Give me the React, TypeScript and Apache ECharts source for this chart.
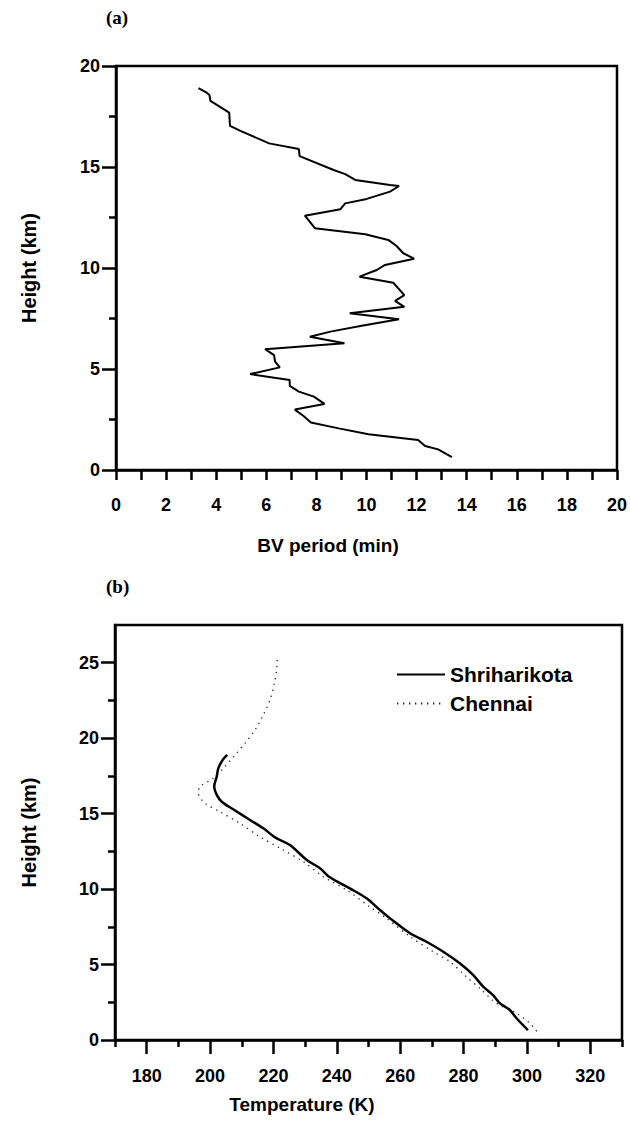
import React, { useEffect, useRef } from "react";
import * as echarts from "echarts";

// Panel (a): Brunt–Väisälä period profile
const bvPeriod = [3.29, 3.62, 3.73, 3.77, 4.52, 4.55, 4.99, 6.11, 7.3, 7.33, 8.69, 9.15, 9.55, 10.94, 11.3, 10.94, 10.01, 9.15, 8.96, 7.54, 7.94, 9.95, 10.87, 11.2, 11.47, 11.9, 10.74, 10.41, 9.72, 11.07, 11.51, 11.14, 11.51, 9.33, 11.3, 9.81, 8.56, 7.74, 9.12, 5.95, 6.31, 6.35, 6.54, 5.35, 6.93, 6.94, 7.3, 7.9, 8.32, 7.14, 7.5, 7.78, 8.89, 10.08, 12.06, 12.34, 12.86, 13.41];
const bvHeight = [18.9, 18.68, 18.56, 18.27, 17.69, 17.04, 16.78, 16.17, 15.89, 15.54, 14.85, 14.65, 14.36, 14.11, 14.06, 13.78, 13.42, 13.2, 12.91, 12.59, 11.97, 11.67, 11.39, 11.09, 10.73, 10.46, 10.15, 9.9, 9.57, 9.27, 8.66, 8.37, 8.08, 7.76, 7.46, 7.14, 6.85, 6.6, 6.27, 5.98, 5.69, 5.36, 5.08, 4.75, 4.46, 4.16, 3.88, 3.63, 3.27, 2.99, 2.66, 2.35, 2.06, 1.77, 1.49, 1.19, 1.02, 0.64];

// Panel (b): temperature profiles
const shkTemp = [205.4, 204.0, 202.6, 202.1, 201.3, 202.1, 203.7, 207.3, 212.6, 216.8, 220.5, 225.2, 230.5, 234.7, 237.8, 244.1, 249.4, 253.6, 256.8, 263.1, 268.3, 273.6, 278.8, 283.0, 286.2, 289.3, 291.5, 294.6, 296.7, 300.3];
const shkHeight = [18.89, 18.56, 18.0, 17.45, 16.79, 16.24, 15.79, 15.29, 14.58, 14.03, 13.43, 12.92, 11.93, 11.38, 10.78, 10.05, 9.39, 8.61, 8.06, 7.07, 6.51, 5.85, 5.08, 4.31, 3.53, 2.98, 2.43, 1.99, 1.44, 0.66];
const chnTemp = [221.2, 221.0, 220.3, 218.9, 216.8, 214.2, 211.0, 207.9, 204.2, 201.0, 196.8, 196.3, 198.4, 203.1, 209.4, 215.7, 223.1, 229.4, 235.7, 243.1, 250.4, 255.7, 263.1, 270.4, 275.7, 280.9, 285.1, 290.4, 296.7, 300.9, 304.0];
const chnHeight = [25.18, 24.52, 23.64, 22.53, 21.54, 20.54, 19.66, 18.89, 18.0, 17.34, 16.79, 16.35, 15.69, 15.13, 14.36, 13.47, 12.59, 11.82, 10.82, 9.94, 8.83, 8.06, 6.85, 5.85, 5.19, 4.19, 3.43, 2.43, 1.77, 1.11, 0.33];

const tempMajorTicks = [180, 200, 220, 240, 260, 280, 300, 320];
const tempMinorTicks = [170, 190, 210, 230, 250, 270, 290, 310, 330];
const heightMajorTicksB = [0, 5, 10, 15, 20, 25];
const heightMinorTicksB = [2.5, 7.5, 12.5, 17.5, 22.5];

const FONT = "'Liberation Sans', Arial, sans-serif";
const lbl = { color: "#000", fontFamily: FONT, fontWeight: "bold" as const, fontSize: 18 };
const nameStyle = { color: "#000", fontFamily: FONT, fontWeight: "bold" as const, fontSize: 20 };
const axLine = { show: true, lineStyle: { color: "#000", width: 2.5 } };

export default function App() {
  const ref = useRef<HTMLDivElement>(null);
  useEffect(() => {
    if (!ref.current) return;
    const chart = echarts.init(ref.current, undefined, { renderer: "svg" });
    const zip = (a: number[], b: number[]) => a.map((v, i) => [v, b[i]]);
    const titleFont = `bold 19px ${FONT}`;
    chart.setOption({
      animation: false,
      backgroundColor: "#fff",
      grid: [
        { left: 116, top: 66, width: 504, height: 404, show: true, borderColor: "#000", borderWidth: 2.5, backgroundColor: "transparent" },
        { left: 115, top: 625, width: 507, height: 415, show: true, borderColor: "#000", borderWidth: 2.5, backgroundColor: "transparent" },
      ],
      graphic: [
        { type: "text", left: 106, top: 8, style: { text: "(a)", font: "bold 19px 'Liberation Serif', 'Times New Roman', serif", fill: "#000" } },
        { type: "text", left: 106, top: 577, style: { text: "(b)", font: "bold 19px 'Liberation Serif', 'Times New Roman', serif", fill: "#000" } },
        { type: "text", x: 328, y: 545, style: { text: "BV period (min)", font: titleFont, fill: "#000", align: "center", verticalAlign: "middle" } },
        { type: "text", x: 302, y: 1104, style: { text: "Temperature (K)", font: titleFont, fill: "#000", align: "center", verticalAlign: "middle" } },
      ],
      legend: {
        orient: "vertical",
        left: 391,
        top: 659,
        itemWidth: 48,
        itemHeight: 14,
        itemGap: 8,
        itemStyle: { opacity: 0 },
        textStyle: { ...nameStyle, fontSize: 21 },
        data: ["Shriharikota", "Chennai"],
      },
      xAxis: [
        {
          gridIndex: 0, type: "value", min: 0, max: 20, interval: 1,
          axisLine: axLine, axisTick: { show: true, length: 10, lineStyle: { color: "#000", width: 2.5 } },
          splitLine: { show: false },
          axisLabel: { ...lbl, margin: 26, formatter: (v: number) => (v % 2 === 0 ? String(v) : "") },
        },
        {
          gridIndex: 1, type: "value", position: "bottom", min: 170, max: 330, interval: 10,
          axisLine: axLine,
          axisTick: { show: true, length: 7, customValues: tempMinorTicks, lineStyle: { color: "#000", width: 2.5 } },
          axisLabel: { show: false },
          splitLine: { show: false },
        },
        {
          gridIndex: 1, type: "value", position: "bottom", min: 170, max: 330, interval: 10,
          axisLine: { show: false },
          axisTick: { show: true, length: 14, customValues: tempMajorTicks, lineStyle: { color: "#000", width: 2.5 } },
          axisLabel: { ...lbl, margin: 27, customValues: tempMajorTicks },
          splitLine: { show: false },
        },
      ],
      yAxis: [
        {
          gridIndex: 0, type: "value", min: 0, max: 20, interval: 5,
          axisLine: axLine, axisTick: { show: true, length: 14, lineStyle: { color: "#000", width: 2.5 } },
          minorTick: { show: true, splitNumber: 2, length: 7, lineStyle: { color: "#000", width: 2.5 } },
          splitLine: { show: false }, minorSplitLine: { show: false },
          axisLabel: { ...lbl, margin: 16 },
          name: "Height (km)", nameLocation: "middle", nameRotate: 90, nameGap: 77, nameTextStyle: nameStyle,
        },
        {
          gridIndex: 1, type: "value", min: 0, max: 27.5, interval: 5,
          axisLine: axLine,
          axisTick: { show: true, length: 14, customValues: heightMajorTicksB, lineStyle: { color: "#000", width: 2.5 } },
          splitLine: { show: false },
          axisLabel: { ...lbl, margin: 16, customValues: heightMajorTicksB },
          name: "Height (km)", nameLocation: "middle", nameRotate: 90, nameGap: 76, nameTextStyle: nameStyle,
        },
        {
          gridIndex: 1, type: "value", position: "left", min: 0, max: 27.5, interval: 5,
          axisLine: { show: false },
          axisTick: { show: true, length: 7, customValues: heightMinorTicksB, lineStyle: { color: "#000", width: 2.5 } },
          axisLabel: { show: false },
          splitLine: { show: false },
        },
      ],
      series: [
        {
          type: "line", xAxisIndex: 0, yAxisIndex: 0, data: zip(bvPeriod, bvHeight),
          symbol: "none", lineStyle: { color: "#000", width: 2 }, itemStyle: { color: "#000" },
        },
        {
          name: "Shriharikota", type: "line", xAxisIndex: 2, yAxisIndex: 1, data: zip(shkTemp, shkHeight),
          symbol: "none", smooth: 0.3, lineStyle: { color: "#000", width: 2.5 }, itemStyle: { color: "#000" },
        },
        {
          name: "Chennai", type: "line", xAxisIndex: 2, yAxisIndex: 1, data: zip(chnTemp, chnHeight),
          symbol: "none", smooth: 0.3, lineStyle: { color: "#222", width: 1.3, type: [1.3, 4.7] }, itemStyle: { color: "#222" },
        },
      ],
    });
    return () => chart.dispose();
  }, []);
  return <div ref={ref} style={{ position: "absolute", left: 0, top: 0, width: 630, height: 1130 }} />;
}
